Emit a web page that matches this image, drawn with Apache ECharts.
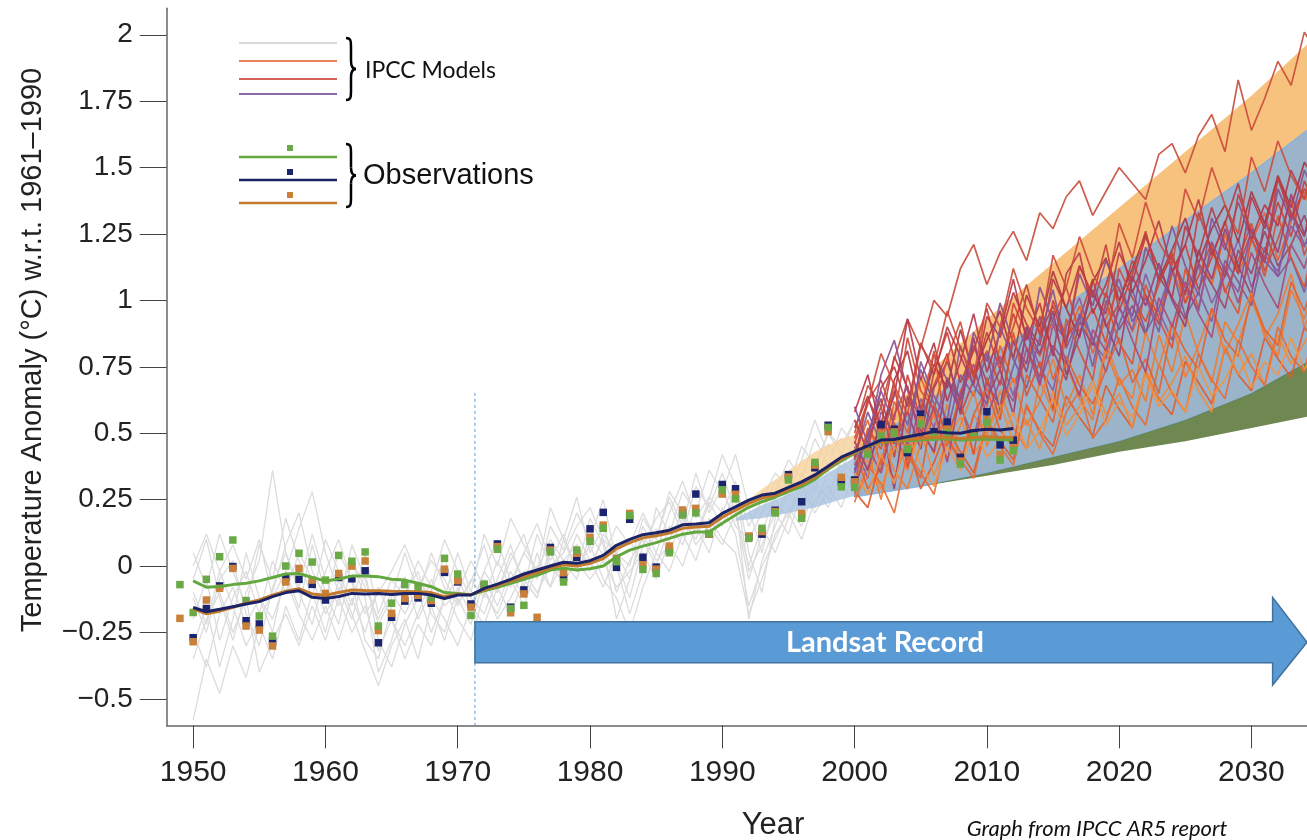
<!DOCTYPE html>
<html>
<head>
<meta charset="utf-8">
<title>Temperature anomaly - IPCC AR5</title>
<script src="https://cdn.jsdelivr.net/npm/echarts@6/dist/echarts.min.js"></script>
<style>
  html, body { margin: 0; padding: 0; background: #fff; }
  #main { width: 1307px; height: 840px; }
</style>
</head>
<body>
<div id="main"></div>
<script>
// ---- axis ticks ----
var xTicks = [1950, 1960, 1970, 1980, 1990, 2000, 2010, 2020, 2030];
var yTicks = [-0.5, -0.25, 0, 0.25, 0.5, 0.75, 1, 1.25, 1.5, 1.75, 2];
var yTickLabels = ['\u22120.5', '\u22120.25', '0', '0.25', '0.5', '0.75', '1', '1.25', '1.5', '1.75', '2'];

// ---- observations (annual squares), 1949..2012 ----
var obsStartYear = 1949;
var obsGreen = [
  -0.07, -0.175, -0.05, 0.035, 0.098, -0.13, -0.188, -0.264, 0.0, 0.048,
  0.015, -0.053, 0.04, 0.018, 0.053, -0.226, -0.14, -0.07, -0.08, -0.118,
  0.029, -0.03, -0.186, -0.068, 0.063, -0.16, -0.148, -0.24, 0.053, -0.06,
  0.06, 0.093, 0.142, 0.016, 0.19, -0.013, -0.028, 0.05, 0.192, 0.2,
  0.123, 0.287, 0.253, 0.104, 0.142, 0.2, 0.324, 0.18, 0.39, 0.522,
  0.298, 0.296, 0.42, 0.489, 0.5, 0.439, 0.535, 0.485, 0.5, 0.384,
  0.487, 0.54, 0.399, 0.434
];
var obsNavy = [
  null, -0.27, -0.16, -0.075, -0.002, -0.206, -0.218, -0.282, -0.043, -0.05,
  -0.069, -0.128, -0.043, -0.048, -0.018, -0.289, -0.193, -0.132, -0.12, -0.14,
  -0.024, -0.06, -0.143, -0.075, 0.083, -0.155, -0.09, -0.22, 0.07, -0.043,
  0.033, 0.14, 0.202, -0.005, 0.176, 0.033, -0.004, 0.06, 0.2, 0.271,
  0.12, 0.307, 0.291, 0.11, 0.12, 0.21, 0.344, 0.242, 0.37, 0.53,
  0.317, 0.324, 0.44, 0.533, 0.515, 0.427, 0.572, 0.506, 0.542, 0.409,
  0.5, 0.581, 0.456, 0.474
];
var obsBrown = [
  -0.197, -0.285, -0.128, -0.084, -0.009, -0.226, -0.241, -0.301, -0.06, -0.009,
  -0.053, -0.103, -0.028, 0.0, 0.019, -0.243, -0.178, -0.122, -0.11, -0.13,
  -0.012, -0.055, -0.155, -0.075, 0.073, -0.176, -0.105, -0.193, 0.06, -0.025,
  0.048, 0.108, 0.154, 0.029, 0.198, 0.005, -0.012, 0.075, 0.211, 0.217,
  0.12, 0.271, 0.27, 0.113, 0.13, 0.205, 0.335, 0.198, 0.38, 0.506,
  0.334, 0.317, 0.43, 0.5, 0.505, 0.445, 0.55, 0.495, 0.515, 0.395,
  0.49, 0.55, 0.42, 0.445
];

// ---- observations (smoothed lines), 1950..2012 ----
var smoothStartYear = 1950;
var lineGreen = [
  -0.056, -0.08, -0.077, -0.07, -0.065, -0.056, -0.043, -0.03, -0.028, -0.043,
  -0.056, -0.049, -0.038, -0.038, -0.04, -0.05, -0.053, -0.065, -0.078, -0.1,
  -0.103, -0.108, -0.093, -0.08, -0.065, -0.05, -0.035, -0.015, -0.008, -0.015,
  -0.01, 0.0, 0.035, 0.06, 0.075, 0.088, 0.104, 0.12, 0.128, 0.128,
  0.161, 0.192, 0.221, 0.242, 0.259, 0.28, 0.299, 0.326, 0.364, 0.396,
  0.425, 0.45, 0.466, 0.472, 0.472, 0.474, 0.478, 0.478, 0.474, 0.476,
  0.478, 0.476, 0.474
];
var lineNavy = [
  -0.156, -0.172, -0.163, -0.153, -0.143, -0.134, -0.115, -0.1, -0.093, -0.118,
  -0.122, -0.115, -0.103, -0.105, -0.103, -0.107, -0.103, -0.103, -0.109, -0.122,
  -0.109, -0.109, -0.084, -0.068, -0.05, -0.03, -0.015, 0.0, 0.014, 0.01,
  0.02, 0.04, 0.078, 0.1, 0.118, 0.125, 0.135, 0.155, 0.158, 0.163,
  0.198, 0.223, 0.248, 0.267, 0.274, 0.296, 0.317, 0.343, 0.376, 0.41,
  0.432, 0.452, 0.474, 0.476, 0.487, 0.496, 0.506, 0.502, 0.5, 0.51,
  0.515, 0.512, 0.518
];
var lineBrown = [
  -0.16, -0.18, -0.17, -0.155, -0.14, -0.128, -0.11, -0.095, -0.085, -0.105,
  -0.11, -0.1, -0.09, -0.092, -0.093, -0.095, -0.096, -0.097, -0.1, -0.115,
  -0.106, -0.108, -0.09, -0.074, -0.057, -0.04, -0.025, -0.008, 0.005, 0.0,
  0.01, 0.028, 0.065, 0.088, 0.106, 0.114, 0.124, 0.142, 0.147, 0.15,
  0.184, 0.21, 0.236, 0.256, 0.266, 0.288, 0.308, 0.335, 0.37, 0.403,
  0.428, 0.45, 0.468, 0.472, 0.476, 0.48, 0.485, 0.484, 0.48, 0.484,
  0.487, 0.485, 0.484
];

// ---- model hindcasts (grey), 1950..2005 ----
var hindcastStartYear = 1950;
var hindcastRuns = [
  [-0.12, -0.25, -0.05, 0.02, -0.18, -0.30, -0.08, 0.05, -0.10, -0.22,
   -0.02, 0.10, -0.06, -0.28, -0.35, -0.15, -0.04, -0.20, -0.09, 0.03,
   -0.14, -0.06, 0.08, -0.10, 0.02, 0.12, -0.05, 0.15, 0.06, 0.20,
   0.10, 0.25, 0.02, -0.12, 0.08, 0.18, 0.24, 0.12, 0.30, 0.22,
   0.35, 0.20, -0.05, 0.12, 0.28, 0.40, 0.33, 0.48, 0.38, 0.52,
   0.45, 0.58, 0.42, 0.55, 0.62, 0.50],
  [-0.30, -0.15, -0.38, -0.20, 0.05, -0.12, -0.25, -0.02, -0.16, 0.08,
   -0.10, -0.22, 0.02, -0.12, -0.40, -0.28, -0.10, -0.02, -0.18, -0.25,
   -0.08, -0.18, -0.02, 0.10, -0.06, 0.05, 0.16, 0.02, 0.12, -0.02,
   0.18, 0.08, -0.20, -0.05, 0.15, 0.05, 0.20, 0.32, 0.18, 0.26,
   0.20, 0.32, 0.05, -0.10, 0.18, 0.30, 0.22, 0.36, 0.50, 0.42,
   0.55, 0.40, 0.50, 0.62, 0.48, 0.58],
  [-0.05, 0.10, -0.12, -0.28, -0.10, 0.02, 0.36, 0.05, -0.08, 0.12,
   -0.05, -0.15, 0.08, -0.05, -0.22, -0.12, 0.05, -0.10, -0.25, -0.12,
   0.05, -0.10, 0.12, 0.00, 0.18, 0.08, -0.02, 0.22, 0.10, 0.26,
   0.05, 0.15, 0.00, -0.18, -0.02, 0.22, 0.12, 0.28, 0.20, 0.36,
   0.28, 0.42, 0.22, 0.05, 0.25, 0.18, 0.35, 0.28, 0.46, 0.35,
   0.48, 0.38, 0.60, 0.45, 0.52, 0.65],
  [-0.58, -0.35, -0.48, -0.30, -0.42, -0.22, -0.35, -0.15, -0.28, -0.10,
   -0.25, -0.05, -0.18, -0.32, -0.45, -0.30, -0.20, -0.35, -0.15, -0.28,
   -0.12, -0.22, -0.05, -0.15, -0.02, -0.12, 0.05, -0.08, 0.10, -0.02,
   0.08, -0.05, -0.12, -0.25, -0.08, 0.05, -0.02, 0.12, 0.02, 0.18,
   0.10, 0.05, -0.18, -0.05, 0.12, 0.20, 0.10, 0.25, 0.30, 0.22,
   0.36, 0.30, 0.42, 0.35, 0.45, 0.40],
  [0.05, -0.08, 0.12, -0.02, -0.15, 0.08, -0.05, 0.18, 0.02, -0.12,
   0.10, -0.02, -0.15, 0.05, -0.18, -0.05, -0.12, 0.02, -0.08, 0.10,
   -0.02, -0.12, -0.18, -0.05, 0.08, -0.08, 0.12, 0.00, 0.05, 0.15,
   0.22, 0.10, 0.05, 0.00, 0.18, 0.10, 0.26, 0.15, 0.35, 0.20,
   0.30, 0.15, 0.10, 0.20, 0.32, 0.26, 0.40, 0.55, 0.42, 0.48,
   0.40, 0.52, 0.45, 0.58, 0.50, 0.60],
  [-0.20, -0.05, -0.28, -0.12, -0.02, -0.18, 0.02, -0.10, 0.05, -0.05,
   -0.18, -0.08, -0.20, -0.02, -0.28, -0.38, -0.22, -0.12, 0.05, -0.08,
   -0.20, -0.28, -0.10, -0.18, -0.05, -0.15, 0.00, -0.08, 0.02, 0.08,
   -0.02, 0.12, 0.05, 0.10, 0.00, 0.14, 0.05, 0.18, 0.10, 0.24,
   0.15, 0.30, -0.02, 0.08, 0.20, 0.12, 0.28, 0.22, 0.36, 0.30,
   0.40, 0.46, 0.38, 0.50, 0.44, 0.56],
  [-0.10, -0.22, -0.02, -0.15, -0.30, -0.20, -0.10, 0.08, 0.20, -0.02,
   -0.12, 0.05, -0.05, -0.18, -0.10, -0.02, 0.08, -0.05, -0.12, -0.20,
   -0.30, -0.15, -0.22, -0.08, -0.18, -0.05, -0.12, 0.05, -0.05, 0.08,
   0.00, 0.10, -0.10, 0.02, 0.10, 0.00, 0.15, 0.08, 0.22, 0.12,
   0.18, 0.25, -0.20, 0.02, 0.15, 0.28, 0.20, 0.32, 0.25, 0.40,
   0.34, 0.45, 0.40, 0.52, 0.46, 0.55],
  [-0.35, -0.20, -0.10, -0.25, -0.12, -0.40, -0.28, -0.18, -0.30, -0.15,
   -0.28, -0.12, -0.25, -0.15, -0.32, -0.20, -0.30, -0.18, -0.05, -0.15,
   -0.10, 0.02, -0.08, -0.20, -0.12, -0.02, -0.10, 0.00, -0.06, 0.02,
   -0.05, 0.02, -0.08, -0.02, 0.05, -0.05, 0.10, 0.20, 0.08, 0.15,
   0.08, 0.20, 0.00, 0.15, 0.05, 0.18, 0.30, 0.20, 0.28, 0.38,
   0.30, 0.42, 0.35, 0.48, 0.40, 0.52],
  [0.00, 0.12, -0.02, 0.08, -0.05, 0.10, -0.12, -0.02, 0.14, 0.28,
   0.05, -0.10, 0.02, -0.08, -0.20, -0.10, -0.18, -0.08, 0.02, -0.05,
   -0.15, -0.05, -0.12, 0.02, -0.08, 0.05, -0.02, 0.10, 0.02, -0.05,
   0.12, 0.04, 0.15, 0.08, 0.20, 0.10, 0.28, 0.20, 0.12, 0.25,
   0.42, 0.30, 0.15, 0.25, 0.35, 0.30, 0.45, 0.38, 0.50, 0.45,
   0.55, 0.48, 0.62, 0.52, 0.58, 0.66],
  [-0.25, -0.38, -0.18, -0.08, -0.22, -0.12, -0.20, -0.05, -0.18, -0.28,
   -0.15, -0.28, -0.12, -0.25, -0.08, -0.20, -0.35, -0.22, -0.30, -0.12,
   -0.05, -0.15, -0.02, -0.10, 0.05, -0.05, -0.12, 0.08, -0.02, 0.12,
   0.02, -0.08, 0.05, -0.05, 0.12, 0.02, 0.08, 0.00, 0.15, 0.05,
   0.22, 0.12, -0.15, 0.00, 0.10, 0.22, 0.15, 0.30, 0.22, 0.35,
   0.42, 0.35, 0.48, 0.40, 0.55, 0.46]
];

// ---- model projections, 2000..2035 ----
var projectionStartYear = 2000;
var projectionRuns = [
  [0.42, 0.55, 0.38, 0.62, 0.50, 0.71, 0.58, 0.45, 0.66, 0.74,
   0.60, 0.83, 0.69, 0.77, 0.92, 0.70, 0.85, 0.98, 0.80, 0.93,
   1.05, 0.88, 1.02, 0.94, 1.12, 0.99, 1.18, 1.06, 1.25, 1.10,
   1.22, 1.33, 1.15, 1.30, 1.41, 1.27],
  [0.38, 0.47, 0.60, 0.41, 0.72, 0.55, 0.68, 0.80, 0.57, 0.70,
   0.88, 0.74, 0.95, 0.82, 0.71, 1.00, 0.86, 0.93, 1.08, 0.90,
   0.99, 1.15, 1.02, 0.91, 1.10, 1.21, 1.04, 1.16, 1.30, 1.12,
   1.26, 1.18, 1.37, 1.24, 1.45, 1.33],
  [0.45, 0.33, 0.58, 0.49, 0.40, 0.63, 0.52, 0.71, 0.60, 0.48,
   0.69, 0.79, 0.64, 0.88, 0.75, 0.66, 0.90, 1.01, 0.84, 0.78,
   0.97, 0.89, 1.10, 0.96, 0.85, 1.04, 1.13, 0.99, 1.09, 1.23,
   1.05, 1.17, 1.11, 1.28, 1.20, 1.36],
  [0.30, 0.44, 0.25, 0.50, 0.36, 0.55, 0.42, 0.61, 0.38, 0.57,
   0.49, 0.66, 0.52, 0.44, 0.70, 0.58, 0.76, 0.63, 0.55, 0.81,
   0.68, 0.74, 0.62, 0.87, 0.73, 0.95, 0.80, 0.69, 0.92, 0.84,
   1.00, 0.88, 0.79, 1.04, 0.93, 1.08],
  [0.52, 0.64, 0.48, 0.70, 0.81, 0.59, 0.76, 0.67, 0.89, 0.72,
   0.85, 0.96, 0.78, 1.02, 0.90, 1.11, 0.97, 0.86, 1.07, 1.16,
   1.00, 1.12, 1.25, 1.08, 1.19, 1.31, 1.14, 1.27, 1.36, 1.22,
   1.41, 1.29, 1.47, 1.35, 1.52, 1.44],
  [0.36, 0.50, 0.63, 0.46, 0.58, 0.44, 0.67, 0.77, 0.62, 0.83,
   0.69, 0.60, 0.85, 0.73, 0.94, 0.81, 0.70, 0.92, 0.83, 1.03,
   0.89, 0.98, 0.87, 1.09, 1.01, 0.93, 1.14, 1.06, 0.97, 1.19,
   1.10, 1.26, 1.13, 1.21, 1.32, 1.18],
  [0.28, 0.22, 0.41, 0.33, 0.47, 0.29, 0.39, 0.52, 0.43, 0.35,
   0.55, 0.47, 0.40, 0.60, 0.51, 0.45, 0.64, 0.56, 0.49, 0.68,
   0.59, 0.52, 0.73, 0.63, 0.57, 0.77, 0.69, 0.61, 0.82, 0.72,
   0.66, 0.86, 0.78, 0.71, 0.90, 0.83],
  [0.48, 0.62, 0.70, 0.55, 0.86, 0.66, 0.59, 0.78, 0.92, 0.71,
   0.81, 0.68, 0.99, 0.87, 0.79, 0.93, 1.05, 0.88, 0.97, 0.84,
   1.12, 1.01, 0.92, 1.06, 1.18, 0.99, 1.09, 1.22, 1.03, 1.15,
   1.29, 1.11, 1.23, 1.38, 1.17, 1.31],
  [0.41, 0.58, 0.46, 0.66, 0.53, 0.74, 0.61, 0.50, 0.72, 0.64,
   0.80, 0.58, 0.75, 0.90, 0.69, 0.83, 0.76, 0.95, 0.86, 0.73,
   0.91, 1.04, 0.88, 0.97, 1.12, 0.94, 1.03, 0.92, 1.15, 1.07,
   0.98, 1.20, 1.09, 1.16, 1.03, 1.24],
  [0.33, 0.40, 0.29, 0.45, 0.38, 0.51, 0.34, 0.48, 0.56, 0.42,
   0.50, 0.61, 0.47, 0.55, 0.44, 0.66, 0.53, 0.60, 0.70, 0.57,
   0.65, 0.52, 0.74, 0.62, 0.69, 0.79, 0.66, 0.58, 0.83, 0.72,
   0.80, 0.68, 0.87, 0.76, 0.84, 0.92],
  [0.55, 0.43, 0.67, 0.75, 0.60, 0.84, 0.72, 0.90, 0.79, 0.68,
   0.94, 0.86, 1.03, 0.91, 0.83, 1.08, 0.97, 1.13, 1.02, 0.95,
   1.18, 1.07, 1.24, 1.12, 1.01, 1.28, 1.17, 1.35, 1.21, 1.10,
   1.39, 1.27, 1.46, 1.33, 1.24, 1.50],
  [0.50, 0.68, 0.60, 0.78, 0.93, 0.82, 1.00, 0.94, 1.12, 1.21,
   1.06, 1.18, 1.26, 1.15, 1.33, 1.27, 1.39, 1.45, 1.32, 1.41,
   1.50, 1.44, 1.38, 1.55, 1.59, 1.48, 1.62, 1.70, 1.56, 1.83,
   1.64, 1.76, 1.90, 1.81, 2.01, 1.93],
  [0.24, 0.38, 0.31, 0.20, 0.43, 0.35, 0.27, 0.49, 0.40, 0.33,
   0.54, 0.45, 0.38, 0.61, 0.50, 0.42, 0.58, 0.66, 0.48, 0.55,
   0.71, 0.60, 0.53, 0.76, 0.65, 0.58, 0.80, 0.70, 0.63, 0.85,
   0.75, 0.68, 0.90, 0.79, 0.73, 0.95],
  [0.60, 0.46, 0.72, 0.85, 0.66, 0.55, 0.80, 0.70, 0.63, 0.88,
   0.77, 0.99, 0.84, 0.76, 1.05, 0.92, 0.85, 1.10, 0.98, 1.15,
   1.04, 0.94, 1.20, 1.09, 1.28, 1.13, 1.02, 1.31, 1.19, 1.37,
   1.23, 1.14, 1.42, 1.30, 1.49, 1.38],
  [0.31, 0.52, 0.44, 0.69, 0.37, 0.58, 0.81, 0.49, 0.62, 0.42,
   0.71, 0.55, 0.88, 0.64, 0.77, 0.59, 0.93, 0.81, 0.70, 1.00,
   0.84, 0.76, 1.06, 0.93, 0.82, 1.12, 0.97, 1.20, 1.04, 0.95,
   1.24, 1.09, 1.32, 1.16, 1.05, 1.28],
  [0.47, 0.36, 0.55, 0.29, 0.64, 0.51, 0.43, 0.70, 0.58, 0.86,
   0.63, 0.74, 0.57, 0.90, 0.80, 0.96, 0.72, 0.87, 1.04, 0.91,
   0.79, 1.09, 0.98, 1.14, 1.00, 0.90, 1.19, 1.08, 1.27, 1.13,
   1.02, 1.30, 1.18, 1.40, 1.25, 1.35],
  [0.26, 0.34, 0.48, 0.36, 0.29, 0.46, 0.57, 0.40, 0.53, 0.66,
   0.45, 0.58, 0.71, 0.53, 0.62, 0.78, 0.60, 0.72, 0.57, 0.84,
   0.70, 0.63, 0.88, 0.75, 0.92, 0.71, 0.83, 0.97, 0.80, 0.91,
   1.03, 0.86, 0.95, 1.10, 0.90, 1.02],
  [0.58, 0.72, 0.51, 0.64, 0.93, 0.70, 0.84, 0.62, 0.77, 0.95,
   0.73, 0.88, 1.08, 0.85, 0.99, 0.79, 1.10, 1.18, 0.95, 1.06,
   1.22, 1.03, 1.15, 1.30, 1.11, 1.21, 1.38, 1.17, 1.29, 1.44,
   1.23, 1.36, 1.28, 1.49, 1.38, 1.55],
  [0.35, 0.49, 0.66, 0.53, 0.45, 0.77, 0.64, 0.55, 0.83, 0.68,
   0.61, 0.90, 0.78, 0.67, 0.86, 1.04, 0.82, 0.94, 0.75, 0.99,
   1.08, 0.92, 1.01, 0.88, 1.16, 1.05, 0.96, 1.22, 1.11, 1.03,
   1.27, 1.15, 1.09, 1.33, 1.21, 1.26],
  [0.44, 0.29, 0.37, 0.54, 0.42, 0.33, 0.61, 0.48, 0.39, 0.57,
   0.67, 0.51, 0.45, 0.72, 0.63, 0.54, 0.79, 0.68, 0.61, 0.74,
   0.86, 0.69, 0.78, 0.65, 0.91, 0.81, 0.74, 0.97, 0.85, 0.79,
   1.02, 0.89, 0.83, 1.07, 0.96, 1.12],
  [0.40, 0.63, 0.53, 0.79, 0.67, 0.48, 0.73, 0.88, 0.69, 0.81,
   0.97, 0.76, 0.90, 1.06, 0.87, 0.98, 0.83, 1.13, 1.01, 1.21,
   0.96, 1.10, 1.26, 1.07, 1.17, 1.02, 1.33, 1.19, 1.09, 1.40,
   1.26, 1.15, 1.46, 1.31, 1.42, 1.37],
  [0.29, 0.45, 0.35, 0.57, 0.68, 0.47, 0.60, 0.39, 0.65, 0.76,
   0.56, 0.70, 0.62, 0.82, 0.68, 0.91, 0.77, 0.64, 0.89, 0.81,
   0.98, 0.85, 0.73, 1.01, 0.90, 1.07, 0.95, 0.86, 1.13, 0.99,
   1.18, 1.06, 0.97, 1.21, 1.12, 1.30],
  [0.35, 0.27, 0.42, 0.31, 0.50, 0.38, 0.30, 0.45, 0.36, 0.52,
   0.41, 0.47, 0.58, 0.44, 0.51, 0.63, 0.49, 0.57, 0.68, 0.53,
   0.62, 0.56, 0.72, 0.60, 0.66, 0.58, 0.75, 0.64, 0.70, 0.81,
   0.67, 0.77, 0.72, 0.86, 0.74, 0.82],
  [0.46, 0.61, 0.80, 0.68, 0.57, 0.83, 0.75, 0.96, 0.82, 0.71,
   0.99, 0.90, 1.12, 0.97, 0.88, 1.17, 1.05, 1.24, 1.10, 1.01,
   1.29, 1.16, 1.37, 1.22, 1.13, 1.42, 1.30, 1.50, 1.36, 1.25,
   1.54, 1.41, 1.60, 1.47, 1.38, 1.57]
];
var projectionColors = ['#e8612c', '#c9403a', '#8e5a9e', '#ee7a30', '#a8343f', '#9c4565', '#e05a2a',
                        '#d04a35', '#7d5a9a', '#f08a3a', '#b83a48', '#c84b3a', '#e76a33', '#8a4f8f',
                        '#d9512f', '#9a3f6e', '#f07b35', '#b5364a', '#85559d', '#e35f2e', '#c23f3d',
                        '#a94a78', '#f29442', '#cd4a3c'];

// ---- projection ranges (shaded bands) ----
var bandYears   = [2000, 2005, 2010, 2015, 2020, 2025, 2030, 2035];
var orangeTop   = [0.45, 0.70, 0.93, 1.14, 1.35, 1.56, 1.77, 2.00];
var blueTop     = [0.42, 0.60, 0.78, 0.95, 1.12, 1.30, 1.48, 1.67];
var blueBottom  = [0.26, 0.30, 0.35, 0.41, 0.47, 0.55, 0.65, 0.79];
var greenBottom = [0.26, 0.30, 0.34, 0.38, 0.43, 0.47, 0.52, 0.57];
var earlyYears       = [1991, 1993, 1995, 1997, 1999, 2000.5];
var earlyOrangeLow   = [0.20, 0.25, 0.29, 0.34, 0.41, 0.44];
var earlyOrangeHigh  = [0.21, 0.29, 0.36, 0.43, 0.48, 0.50];
var earlyBlueLow     = [0.17, 0.18, 0.20, 0.22, 0.25, 0.27];
var earlyBlueHigh    = [0.18, 0.23, 0.27, 0.32, 0.38, 0.42];

// ---- Landsat record arrow (years / anomaly units) ----
var landsatStart = 1971.3, landsatHead = 2031.6, landsatTip = 2034.2;
var landsatBody = [-0.21, -0.364], landsatHeadSpan = [-0.118, -0.448];

function seq(start, arr) {
  return arr.map(function (v, i) { return [start + i, v]; });
}

function bandSeries(years, low, high, color, opacity, edge) {
  return {
    type: 'custom', coordinateSystem: 'cartesian2d', silent: true, z: 2,
    data: [[years[0], low[0]]],
    renderItem: function (params, api) {
      var pts = [];
      for (var i = 0; i < years.length; i++) pts.push(api.coord([years[i], high[i]]));
      for (var j = years.length - 1; j >= 0; j--) pts.push(api.coord([years[j], low[j]]));
      var cs = params.coordSys;
      return {
        type: 'polygon',
        shape: { points: pts },
        clipPath: { type: 'rect', shape: { x: cs.x, y: cs.y, width: cs.width, height: cs.height } },
        style: { fill: color, opacity: opacity, stroke: edge || null, lineWidth: edge ? 1.5 : 0 }
      };
    }
  };
}

var series = [];

hindcastRuns.forEach(function (run) {
  series.push({
    type: 'line', z: 1, data: seq(hindcastStartYear, run), symbol: 'none', silent: true,
    lineStyle: { color: '#dcdcdc', width: 1.3 }
  });
});

series.push(bandSeries(earlyYears, earlyBlueLow, earlyBlueHigh, '#a9c3df', 0.8));
series.push(bandSeries(earlyYears, earlyOrangeLow, earlyOrangeHigh, '#f7d29c', 0.8));
series.push(bandSeries(bandYears, blueTop, orangeTop, '#f4ad52', 0.75));
series.push(bandSeries(bandYears, blueBottom, blueTop, '#8aa7c1', 0.85, '#7fb0e3'));
series.push(bandSeries(bandYears, greenBottom, blueBottom, '#5f7a3d', 0.9));

projectionRuns.forEach(function (run, i) {
  series.push({
    type: 'line', z: 3, data: seq(projectionStartYear, run), symbol: 'none', silent: true,
    lineStyle: { color: projectionColors[i], width: 1.7, opacity: 0.9 }
  });
});

series.push({
  type: 'line', z: 3, symbol: 'none', silent: true,
  data: [[landsatStart, 0.652], [landsatStart, -0.6]],
  lineStyle: { color: '#5b9bd5', width: 1, type: [3, 3] }
});

[[obsNavy, '#1c2470'], [obsBrown, '#c8803a'], [obsGreen, '#6aaa46']].forEach(function (o) {
  series.push({
    type: 'scatter', z: 4, data: seq(obsStartYear, o[0]).filter(function (p) { return p[1] !== null; }),
    symbol: 'rect', symbolSize: 7.5, silent: true, itemStyle: { color: o[1], opacity: 1 }
  });
});

[[lineGreen, '#63a83e'], [lineBrown, '#c47a2c'], [lineNavy, '#1b2266']].forEach(function (o) {
  series.push({
    type: 'line', z: 5, data: seq(smoothStartYear, o[0]), symbol: 'none', silent: true,
    lineStyle: { color: o[1], width: 3 }
  });
});

series.push({
  type: 'custom', z: 6, coordinateSystem: 'cartesian2d', silent: true,
  data: [[landsatStart, landsatBody[0]]],
  renderItem: function (params, api) {
    var mid = (landsatBody[0] + landsatBody[1]) / 2;
    var pts = [
      api.coord([landsatStart, landsatBody[0]]),
      api.coord([landsatHead, landsatBody[0]]),
      api.coord([landsatHead, landsatHeadSpan[0]]),
      api.coord([landsatTip, mid]),
      api.coord([landsatHead, landsatHeadSpan[1]]),
      api.coord([landsatHead, landsatBody[1]]),
      api.coord([landsatStart, landsatBody[1]])
    ];
    var c = api.coord([2002.3, mid]);
    return {
      type: 'group',
      children: [
        { type: 'polygon', shape: { points: pts },
          style: { fill: '#5b9bd5', stroke: '#41719c', lineWidth: 1.5 } },
        { type: 'text', x: c[0], y: c[1],
          style: { text: 'Landsat Record', fill: '#ffffff', font: 'bold 29px Lato',
                   align: 'center', verticalAlign: 'middle' } }
      ]
    };
  }
});

// curly brace built from curve + line pieces
function brace(top, bottom) {
  var m = (top + bottom) / 2;
  var st = { stroke: '#000', lineWidth: 2.5, fill: null };
  return [
    { type: 'bezierCurve', z: 100, shape: { x1: 346, y1: top, cpx1: 351, cpy1: top, cpx2: 351, cpy2: top + 3, x2: 351, y2: top + 10 }, style: st },
    { type: 'line', z: 100, shape: { x1: 351, y1: top + 10, x2: 351, y2: m - 8 }, style: st },
    { type: 'bezierCurve', z: 100, shape: { x1: 351, y1: m - 8, cpx1: 351, cpy1: m - 3, cpx2: 352, cpy2: m, x2: 356, y2: m }, style: st },
    { type: 'bezierCurve', z: 100, shape: { x1: 356, y1: m, cpx1: 352, cpy1: m, cpx2: 351, cpy2: m + 3, x2: 351, y2: m + 8 }, style: st },
    { type: 'line', z: 100, shape: { x1: 351, y1: m + 8, x2: 351, y2: bottom - 10 }, style: st },
    { type: 'bezierCurve', z: 100, shape: { x1: 351, y1: bottom - 10, cpx1: 351, cpy1: bottom - 3, cpx2: 351, cpy2: bottom, x2: 346, y2: bottom }, style: st }
  ];
}

function legendLine(y, color, w) {
  return { type: 'line', z: 100, shape: { x1: 239, y1: y, x2: 337, y2: y },
           style: { stroke: color, lineWidth: w } };
}
function legendSquare(y, color) {
  return { type: 'rect', z: 100, shape: { x: 287, y: y - 3, width: 6, height: 6 },
           style: { fill: color } };
}

var graphics = [
  legendLine(43, '#d9d9d9', 2),
  legendLine(61, '#e8845a', 2),
  legendLine(79, '#d4605a', 2),
  legendLine(94, '#8a6aa8', 2),
  { type: 'text', z: 100, x: 365, y: 71,
    style: { text: 'IPCC Models', font: '23px Lato', fill: '#111', verticalAlign: 'middle' } },
  legendSquare(148, '#6aaa46'),
  legendLine(157, '#63a83e', 2.5),
  legendSquare(172, '#1c2470'),
  legendLine(180, '#1b2266', 2.5),
  legendSquare(195, '#c8803a'),
  legendLine(203, '#c47a2c', 2.5),
  { type: 'text', z: 100, x: 363, y: 176,
    style: { text: 'Observations', font: '29px "Liberation Sans"', fill: '#111', verticalAlign: 'middle' } },
  { type: 'text', z: 100, x: 33, y: 350, rotation: Math.PI / 2,
    style: { text: 'Temperature Anomaly (\u00B0C) w.r.t. 1961\u20131990', font: '29px "Liberation Sans"',
             fill: '#222', align: 'center', verticalAlign: 'middle' } },
  { type: 'text', z: 100, x: 773, y: 825,
    style: { text: 'Year', font: '31px "Liberation Sans"', fill: '#222', align: 'center', verticalAlign: 'middle' } },
  { type: 'text', z: 100, x: 1097, y: 829,
    style: { text: 'Graph from IPCC AR5 report', font: 'italic 22px Lato', fill: '#111', align: 'center', verticalAlign: 'middle' } }
].concat(brace(38, 100), brace(144, 207));

var myChart = echarts.init(document.getElementById('main'));
var option = {
  animation: false,
  backgroundColor: '#ffffff',
  grid: { left: 166.7, right: 0, top: 8.2, bottom: 114.6, containLabel: false },
  xAxis: {
    type: 'value', min: 1948, max: 2034.2,
    axisLine: { show: true, onZero: false, lineStyle: { color: '#666', width: 1.5 } },
    axisTick: { show: true, length: 23, customValues: xTicks, lineStyle: { color: '#444', width: 1 } },
    axisLabel: {
      customValues: xTicks, fontSize: 30, color: '#222', margin: 32, fontFamily: 'Liberation Sans',
      formatter: function (v) { return String(v); }
    },
    splitLine: { show: false }
  },
  yAxis: {
    type: 'value', min: -0.6, max: 2.1,
    axisLine: { show: true, onZero: false, lineStyle: { color: '#666', width: 1.5 } },
    axisTick: { show: true, length: 27, customValues: yTicks, lineStyle: { color: '#444', width: 1 } },
    axisLabel: {
      customValues: yTicks, fontSize: 28, color: '#222', margin: 34, fontFamily: 'Liberation Sans',
      formatter: function (v) {
        var i = yTicks.indexOf(v);
        return i >= 0 ? yTickLabels[i] : '';
      }
    },
    splitLine: { show: false }
  },
  graphic: graphics,
  series: series
};
myChart.setOption(option);
window.onresize = myChart.resize;
</script>
</body>
</html>
